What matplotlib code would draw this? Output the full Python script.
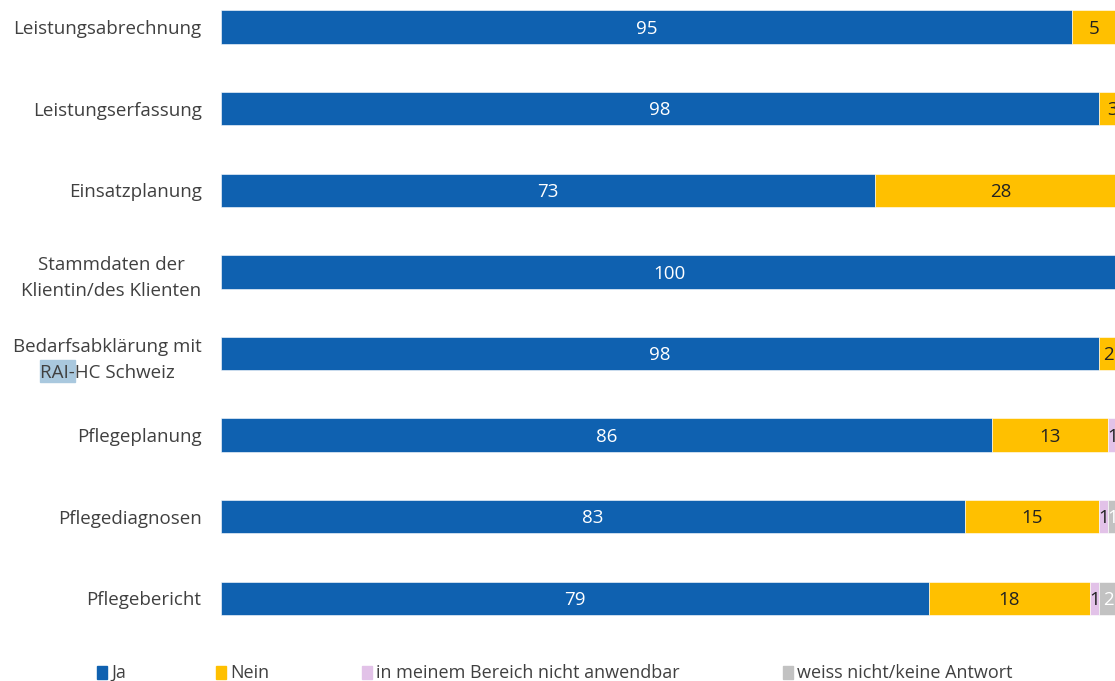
import numpy as np
import matplotlib
matplotlib.use('Agg')
import matplotlib.pyplot as plt
from matplotlib.patches import Rectangle

plt.rcParams['font.family'] = ['Open Sans', 'DejaVu Sans']

categories = [
    'Leistungsabrechnung',
    'Leistungserfassung',
    'Einsatzplanung',
    'Stammdaten der\nKlientin/des Klienten',
    'Bedarfsabklärung mit\nRAI-HC Schweiz',
    'Pflegeplanung',
    'Pflegediagnosen',
    'Pflegebericht',
]
ja = [95, 98, 73, 100, 98, 86, 83, 79]
nein = [5, 3, 28, 0, 2, 13, 15, 18]
nicht_anwendbar = [0, 0, 0, 0, 0, 1, 1, 1]
weiss_nicht = [0, 0, 0, 0, 0, 0, 1, 2]

series_names = ['Ja', 'Nein', 'in meinem Bereich nicht anwendbar', 'weiss nicht/keine Antwort']
colors = ['#0f61b0', '#ffc000', '#e2c2e8', '#c2c2c2']
text_colors = ['white', '#222222', '#222222', 'white']

W, H = 1115, 681
fig = plt.figure(figsize=(W / 100, H / 100), dpi=100)
ax = fig.add_axes([221 / W, 1 - 640 / H, (1117 - 221) / W, 640 / H])

y = np.arange(len(categories))
left = np.zeros(len(categories))
for vals, col, tcol in zip([ja, nein, nicht_anwendbar, weiss_nicht], colors, text_colors):
    vals = np.array(vals, dtype=float)
    ax.barh(y, vals, left=left, height=0.41, color=col, edgecolor='white', linewidth=0.4)
    for yi, v, l in zip(y, vals, left):
        if v > 0:
            ax.text(l + v / 2, yi + 0.02, f'{int(v)}', ha='center', va='center',
                    color=tcol, fontsize=13.5)
    left += vals

ax.set_xlim(0, 100)
ax.set_ylim(7.51, -0.331)
ax.set_yticks(y)
ax.set_yticklabels(categories, fontsize=13.5, color='#404040', linespacing=1.6,
                   multialignment='center')
ax.tick_params(axis='y', length=0, pad=14)
ax.set_xticks([])
for s in ax.spines.values():
    s.set_visible(False)

# legend entries at their own positions
legend_x = [97, 216, 362, 783]
for name, col, lx in zip(series_names, colors, legend_x):
    fig.patches.append(Rectangle((lx / W, 1 - 679 / H), 10 / W, 13 / H,
                                 transform=fig.transFigure, color=col))
    fig.text((lx + 14) / W, 1 - 673 / H, name, ha='left', va='center',
             fontsize=13, color='#404040')

# selection highlight behind "RAI-" in the tick label
fig.canvas.draw()
renderer = fig.canvas.get_renderer()
lab = ax.get_yticklabels()[4]
bb = lab.get_window_extent(renderer)
fp = lab.get_fontproperties()
t_full = fig.text(0, 0, 'RAI-HC Schweiz', fontproperties=fp)
t_part = fig.text(0, 0, 'RAI-', fontproperties=fp)
w_full = t_full.get_window_extent(renderer).width
w_part = t_part.get_window_extent(renderer).width
t_full.remove()
t_part.remove()
x0 = (bb.x0 + bb.x1) / 2 - w_full / 2
fig.patches.append(Rectangle((x0 / W, bb.y0 / H), w_part / W, (bb.height / 2) / H,
                             transform=fig.transFigure, color='#a9c8de', zorder=-1))

fig.savefig('out.png', dpi=100)
